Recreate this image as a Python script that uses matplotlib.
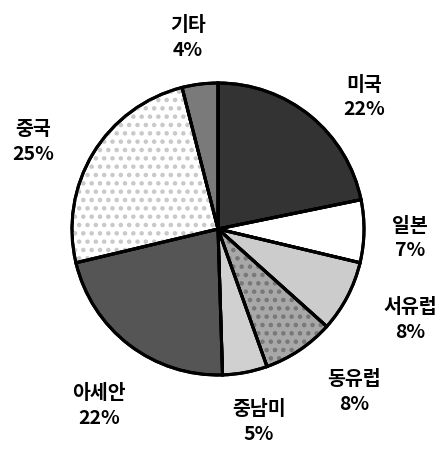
import matplotlib.pyplot as plt

plt.rcParams['font.family'] = ['Noto Sans CJK KR', 'DejaVu Sans']
plt.rcParams['hatch.linewidth'] = 2.0

regions = ['미국', '일본', '서유럽', '동유럽', '중남미', '아세안', '중국', '기타']
shares = [22, 7, 8, 8, 5, 22, 25, 4]

# face colours and dot patterns standing in for the bitmap fills
face_colors = ['#333333', '#ffffff', '#cccccc', '#a8a8a8', '#d0d0d0', '#555555', '#ffffff', '#7a7a7a']
hatches = [None, None, None, '..', None, None, '..', None]
hatch_colors = [None, None, None, '#777777', None, None, '#c8c8c8', None]

# label centres in pie units (radius = 1)
label_pos = [(1.0, 0.91), (1.315, -0.06), (1.315, -0.616), (0.932, -1.11),
             (0.281, -1.315), (-0.815, -1.205), (-1.267, 0.603), (-0.205, 1.315)]

fig = plt.figure(figsize=(4.41, 4.52), dpi=100)
ax = fig.add_axes([0, 0, 1, 1])

wedges, _ = ax.pie(shares, startangle=90, counterclock=False, colors=face_colors,
                   wedgeprops=dict(edgecolor='black', linewidth=2.2))

# dotted overlays
for w, h, hc in zip(wedges, hatches, hatch_colors):
    if h is None:
        continue
    overlay = plt.matplotlib.patches.Wedge(w.center, w.r, w.theta1, w.theta2,
                                           facecolor='none', edgecolor=hc,
                                           hatch=h, linewidth=0)
    ax.add_patch(overlay)
    w.set_zorder(1)
    overlay.set_zorder(2)
# redraw outlines on top
for w in wedges:
    outline = plt.matplotlib.patches.Wedge(w.center, w.r, w.theta1, w.theta2,
                                           facecolor='none', edgecolor='black',
                                           linewidth=2.2, zorder=3)
    ax.add_patch(outline)

for name, val, (lx, ly) in zip(regions, shares, label_pos):
    ax.text(lx, ly, f'{name}\n{val}%', ha='center', va='center', fontsize=14,
            fontweight='black', linespacing=1.35)

ax.set_xlim(-218 / 146, (441 - 218) / 146)
ax.set_ylim(-(452 - 230) / 146, 230 / 146)
ax.set_aspect('auto')
ax.axis('off')

fig.savefig('out.png', dpi=100)
